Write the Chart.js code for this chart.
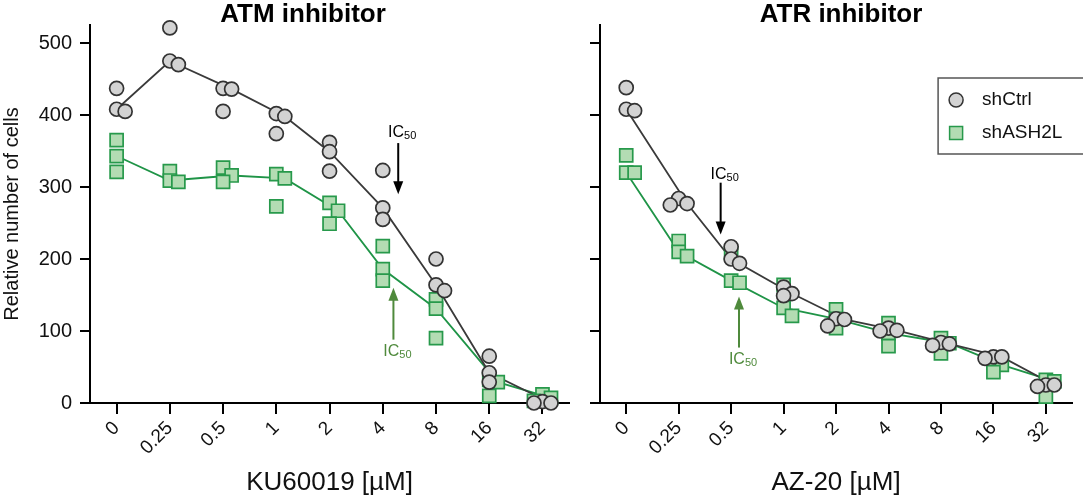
<!DOCTYPE html>
<html>
<head>
<meta charset="utf-8">
<script src="https://cdn.jsdelivr.net/npm/chart.js@4.4.0/dist/chart.umd.min.js"></script>
<style>
  body { margin: 0; background: #fff; }
  #wrap { position: relative; width: 1083px; height: 501px; }
  canvas { position: absolute; top: 0; }
  #atm { left: 0; }
  #atr { left: 580px; }
</style>
</head>
<body>
<div id="wrap">
  <canvas id="atm" width="580" height="501"></canvas>
  <canvas id="atr" width="503" height="501"></canvas>
</div>
<script>
// doses (uM) shown as evenly spaced categories
var doses = ["0", "0.25", "0.5", "1", "2", "4", "8", "16", "32"];
var yTicks = [0, 100, 200, 300, 400, 500];

// triplicates per dose
var atmCtrl  = [[437,408,405],[521,475,470],[437,436,405],[402,398,374],[362,349,322],[323,271,255],[200,164,156],[65,42,29],[2,0,0]];
var atmAsh2l = [[365,343,321],[322,309,307],[327,316,307],[318,312,273],[278,267,249],[218,186,170],[144,131,90],[32,29,10],[12,7,3]];
var atrCtrl  = [[438,408,406],[284,277,275],[217,200,194],[161,152,149],[117,116,107],[104,101,100],[84,82,80],[64,64,62],[25,25,23]];
var atrAsh2l = [[344,320,320],[225,210,204],[208,170,167],[164,132,121],[130,117,104],[111,97,79],[90,83,69],[56,53,43],[32,30,9]];

Chart.defaults.font.family = "'Liberation Sans', Arial, sans-serif";
Chart.defaults.color = '#111';

var grey = { fill: '#d3d3d3', edge: '#333333', line: '#3a3a3a' };
var green = { fill: '#b3dcb3', edge: '#27994b', line: '#1f9447' };

// spread replicates sideways so markers don't sit on top of each other
function spread(groups) {
  var pts = [], line = [];
  groups.forEach(function (vals, i) {
    var placed = [];
    vals.slice().sort(function (a, b) { return b - a; }).forEach(function (v) {
      var steps = [0, 1, -1, 2, -2, 3, -3], k;
      for (k = 0; k < steps.length; k++) {
        var x = i + steps[k] * 0.16;
        var ok = placed.every(function (p) {
          return Math.hypot((p.x - x) * 53.5, (p.y - v) * 0.72) >= 8.5;
        });
        if (ok) break;
      }
      placed.push({ x: i + steps[k] * 0.16, y: v });
    });
    pts = pts.concat(placed);
    line.push(placed[1]); // median
  });
  return { pts: pts, line: line };
}

function arrow(ctx, x, y1, y2, color) {
  var dir = y2 > y1 ? 1 : -1;
  ctx.save();
  ctx.strokeStyle = color;
  ctx.fillStyle = color;
  ctx.lineWidth = 2;
  ctx.beginPath();
  ctx.moveTo(x, y1);
  ctx.lineTo(x, y2 - dir * 10);
  ctx.stroke();
  ctx.beginPath();
  ctx.moveTo(x, y2);
  ctx.lineTo(x - 5, y2 - dir * 13);
  ctx.lineTo(x + 5, y2 - dir * 13);
  ctx.closePath();
  ctx.fill();
  ctx.restore();
}

function ic50(ctx, x, y, color) {
  ctx.save();
  ctx.fillStyle = color;
  ctx.textBaseline = 'middle';
  ctx.font = "16px 'Liberation Sans', Arial";
  var w1 = ctx.measureText('IC').width;
  ctx.font = "11px 'Liberation Sans', Arial";
  var w2 = ctx.measureText('50').width;
  var left = x + 4 - (w1 + w2) / 2;
  ctx.font = "16px 'Liberation Sans', Arial";
  ctx.fillText('IC', left, y);
  ctx.font = "11px 'Liberation Sans', Arial";
  ctx.fillText('50', left + w1, y + 3);
  ctx.restore();
}

var decor = {
  id: 'decor',
  afterDraw: function (chart, args, o) {
    var ctx = chart.ctx, xs = chart.scales.x, ys = chart.scales.y;
    ctx.save();
    ctx.fillStyle = '#000';
    ctx.font = "bold 26px 'Liberation Sans', Arial";
    ctx.textAlign = 'center';
    ctx.textBaseline = 'middle';
    ctx.fillText(o.title, o.titleX, 15);
    ctx.restore();

    o.marks.forEach(function (m) {
      var x = xs.getPixelForValue(m.x);
      arrow(ctx, x, ys.getPixelForValue(m.from), ys.getPixelForValue(m.to), m.color);
      ic50(ctx, x, ys.getPixelForValue(m.label), m.color);
    });

    if (o.legend) {
      var bx = chart.chartArea.right - 134, by = chart.chartArea.top + 53;
      ctx.save();
      ctx.strokeStyle = '#555';
      ctx.lineWidth = 1.5;
      ctx.strokeRect(bx, by, 160, 76);
      ctx.fillStyle = grey.fill;
      ctx.strokeStyle = grey.edge;
      ctx.beginPath();
      ctx.arc(bx + 18, by + 22, 7, 0, Math.PI * 2);
      ctx.fill();
      ctx.stroke();
      ctx.fillStyle = green.fill;
      ctx.strokeStyle = green.edge;
      ctx.fillRect(bx + 11.5, by + 48.5, 13, 13);
      ctx.strokeRect(bx + 11.5, by + 48.5, 13, 13);
      ctx.fillStyle = '#111';
      ctx.font = "19px 'Liberation Sans', Arial";
      ctx.textBaseline = 'middle';
      ctx.fillText('shCtrl', bx + 44, by + 22);
      ctx.fillText('shASH2L', bx + 44, by + 55);
      ctx.restore();
    }
  }
};

function build(id, ctrl, ash, xTitle, yTitle, deco, padRight, yWidth) {
  var c = spread(ctrl), a = spread(ash);
  var common = { clip: false, showLine: false, pointBorderWidth: 1.7 };
  return new Chart(document.getElementById(id), {
    type: 'scatter',
    data: {
      datasets: [
        Object.assign({ label: 'shCtrl', data: c.pts, pointStyle: 'circle', pointRadius: 7,
          backgroundColor: grey.fill, borderColor: grey.edge }, common),
        Object.assign({ label: 'shASH2L', data: a.pts, pointStyle: 'rect', pointRadius: 9.2,
          backgroundColor: green.fill, borderColor: green.edge }, common),
        { data: c.line, showLine: true, pointRadius: 0, borderColor: grey.line, borderWidth: 1.8, clip: false },
        { data: a.line, showLine: true, pointRadius: 0, borderColor: green.line, borderWidth: 1.8, clip: false }
      ]
    },
    options: {
      responsive: false,
      animation: false,
      layout: { padding: { top: 25, right: padRight, left: 0, bottom: 0 } },
      plugins: { legend: { display: false }, tooltip: { enabled: false }, decor: deco },
      scales: {
        x: {
          type: 'linear', min: -0.5, max: 8.5,
          afterBuildTicks: function (s) { s.ticks = doses.map(function (d, i) { return { value: i }; }); },
          ticks: { callback: function (v) { return doses[v]; }, autoSkip: false,
            maxRotation: 45, minRotation: 45, font: { size: 19 }, padding: 3 },
          grid: { drawOnChartArea: false, tickLength: 11, lineWidth: 2, color: '#000' },
          border: { width: 2, color: '#000' },
          title: { display: true, text: xTitle, font: { size: 26 }, padding: { top: 0, bottom: 3 } },
          afterFit: function (s) { s.height = 98; }
        },
        y: {
          min: 0, max: 525,
          afterBuildTicks: function (s) { s.ticks = yTicks.map(function (v) { return { value: v }; }); },
          ticks: { display: !!yTitle, font: { size: 20 }, padding: 8 },
          grid: { drawOnChartArea: false, tickLength: 10, lineWidth: 2, color: '#000' },
          border: { width: 2, color: '#000' },
          title: { display: !!yTitle, text: yTitle, font: { size: 20 }, padding: { top: 0, bottom: 0 } },
          afterFit: function (s) { s.width = yWidth; }
        }
      }
    },
    plugins: [decor]
  });
}

build('atm', atmCtrl, atmAsh2l, 'KU60019 [µM]', 'Relative number of cells', {
  title: 'ATM inhibitor', titleX: 303, legend: false,
  marks: [
    { x: 5.29, from: 361, to: 290, label: 375, color: '#000' },
    { x: 5.2, from: 88, to: 160, label: 71, color: '#4f8a3c' }
  ]
}, 8, 90);

build('atr', atrCtrl, atrAsh2l, 'AZ-20 [µM]', '', {
  title: 'ATR inhibitor', titleX: 261, legend: true,
  marks: [
    { x: 1.8, from: 306, to: 234, label: 317, color: '#000' },
    { x: 2.15, from: 77, to: 148, label: 60, color: '#4f8a3c' }
  ]
}, 1, 20);
</script>
</body>
</html>
